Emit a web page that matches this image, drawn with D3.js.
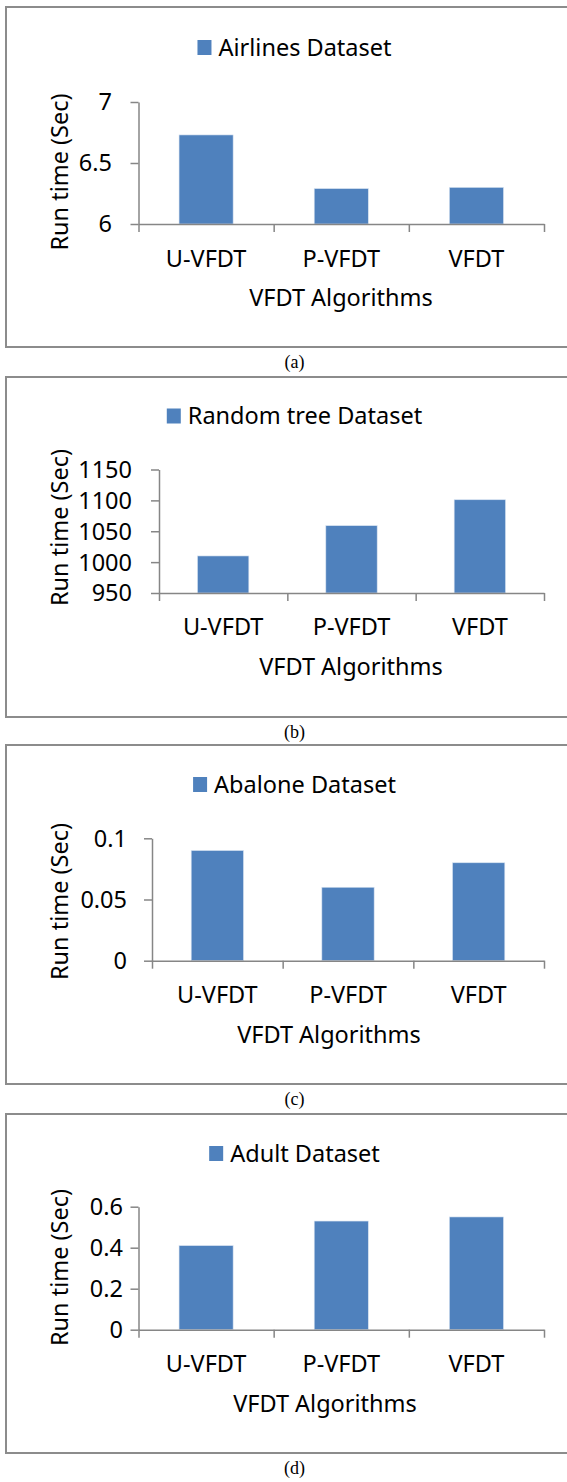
<!DOCTYPE html>
<html>
<head>
<meta charset="utf-8">
<script src="https://cdn.jsdelivr.net/npm/d3@7"></script>
<style>
  body { margin: 0; background: #fff; }
  svg { display: block; }
  .lbl { font-family: "Noto Sans", sans-serif; fill: #000; }
  .cap { font-family: "Liberation Serif", serif; fill: #000; }
</style>
</head>
<body>
<div id="chart"></div>
<script>
// data
var categories = ['U-VFDT', 'P-VFDT', 'VFDT'];

var airlinesValues   = [6.73, 6.29, 6.30];
var randomTreeValues = [1010, 1059, 1101];
var abaloneValues    = [0.09, 0.06, 0.08];
var adultValues      = [0.41, 0.53, 0.55];

var airlinesTicks   = [6, 6.5, 7];
var randomTreeTicks = [950, 1000, 1050, 1100, 1150];
var abaloneTicks    = [0, 0.05, 0.1];
var adultTicks      = [0, 0.2, 0.4, 0.6];

var seriesNames = ['Airlines Dataset', 'Random tree Dataset', 'Abalone Dataset', 'Adult Dataset'];
var captions    = ['(a)', '(b)', '(c)', '(d)'];
var xTitle = 'VFDT Algorithms';
var yTitle = 'Run time (Sec)';

// layout of each panel (pixel positions of frame / plot area)
var panels = [
  {values: airlinesValues,   ticks: airlinesTicks,   fmt: d3.format('~g'),
   top: 7,    bottom: 347,  x0: 138.5, x1: 544, yTop: 102,   yBot: 224,   labelX: 112,
   legY: 47.5,   catY: 267,  titleY: 306,  titleX: 341, yTitleY: 172},
  {values: randomTreeValues, ticks: randomTreeTicks, fmt: d3.format('d'),
   top: 377,  bottom: 717,  x0: 159,   x1: 544, yTop: 469.5, yBot: 593,   labelX: 132,
   legY: 416,    catY: 635,  titleY: 675,  titleX: 351, yTitleY: 527.5},
  {values: abaloneValues,    ticks: abaloneTicks,    fmt: d3.format('~g'),
   top: 745,  bottom: 1084, x0: 152,   x1: 544, yTop: 838.3, yBot: 960.7, labelX: 127,
   legY: 784.5,  catY: 1003, titleY: 1043, titleX: 329, yTitleY: 901.5},
  {values: adultValues,      ticks: adultTicks,      fmt: d3.format('~g'),
   top: 1114, bottom: 1453, x0: 138.5, x1: 544, yTop: 1206.7, yBot: 1329.7, labelX: 123,
   legY: 1153.5, catY: 1372, titleY: 1412, titleX: 325, yTitleY: 1267.5}
];

var W = 567, H = 1482;
var barColor = '#4F81BD';
var axisColor = '#868686';
var fontSize = 23.5;

var svg = d3.select('#chart').append('svg')
  .attr('width', W)
  .attr('height', H);

panels.forEach(function(p, i) {
  var g = svg.append('g');

  // outer frame (runs past the right edge of the page)
  g.append('rect')
    .attr('x', 6).attr('y', p.top)
    .attr('width', 600).attr('height', p.bottom - p.top)
    .attr('fill', 'none')
    .attr('stroke', '#8c8c8c')
    .attr('stroke-width', 2);

  var ext = d3.extent(p.ticks);
  var y = d3.scaleLinear().domain(ext).range([p.yBot, p.yTop]);
  var x = d3.scaleBand().domain(categories).range([p.x0, p.x1])
    .paddingInner(0.6).paddingOuter(0.3);
  var xEdge = d3.scaleLinear().domain([0, categories.length]).range([p.x0, p.x1]);

  // bars
  g.selectAll('rect.bar').data(p.values).enter()
    .append('rect')
    .attr('class', 'bar')
    .attr('x', function(d, j) { return x(categories[j]); })
    .attr('width', x.bandwidth())
    .attr('y', function(d) { return y(d); })
    .attr('height', function(d) { return y(ext[0]) - y(d); })
    .attr('fill', barColor)
    .attr('stroke', '#d6e2f0')
    .attr('stroke-width', 0.6);

  // y axis
  var yAxis = g.append('g')
    .attr('transform', 'translate(' + p.x0 + ',0)')
    .call(d3.axisLeft(y).tickValues(p.ticks).tickSize(8).tickSizeOuter(0).tickFormat(''));
  yAxis.selectAll('path, line').attr('stroke', axisColor).attr('stroke-width', 1.5);

  g.selectAll('text.ytick').data(p.ticks).enter()
    .append('text')
    .attr('class', 'lbl ytick')
    .attr('x', p.labelX)
    .attr('y', function(d) { return y(d); })
    .attr('dy', '0.36em')
    .attr('text-anchor', 'end')
    .style('font-size', fontSize + 'px')
    .text(function(d) { return p.fmt(d); });

  // x axis with tick marks between categories
  var xAxis = g.append('g')
    .attr('transform', 'translate(0,' + p.yBot + ')')
    .call(d3.axisBottom(xEdge).tickValues(d3.range(categories.length + 1))
      .tickSize(8).tickSizeOuter(0).tickFormat(''));
  xAxis.selectAll('path, line').attr('stroke', axisColor).attr('stroke-width', 1.5);

  g.selectAll('text.xcat').data(categories).enter()
    .append('text')
    .attr('class', 'lbl xcat')
    .attr('x', function(d) { return x(d) + x.bandwidth() / 2; })
    .attr('y', p.catY)
    .attr('text-anchor', 'middle')
    .style('font-size', fontSize + 'px')
    .text(function(d) { return d; });

  // axis titles
  g.append('text')
    .attr('class', 'lbl')
    .attr('x', p.titleX)
    .attr('y', p.titleY)
    .attr('text-anchor', 'middle')
    .style('font-size', fontSize + 'px')
    .text(xTitle);

  g.append('text')
    .attr('class', 'lbl')
    .attr('transform', 'translate(68,' + p.yTitleY + ') rotate(-90)')
    .attr('text-anchor', 'middle')
    .style('font-size', fontSize + 'px')
    .text(yTitle);

  // legend, centred on the chart area
  var leg = g.append('g');
  leg.append('rect')
    .attr('width', 14).attr('height', 15)
    .attr('y', -7.5)
    .attr('fill', barColor);
  var lt = leg.append('text')
    .attr('class', 'lbl')
    .attr('x', 21)
    .attr('dy', '0.36em')
    .style('font-size', fontSize + 'px')
    .text(seriesNames[i]);
  var lw = 21 + lt.node().getComputedTextLength();
  leg.attr('transform', 'translate(' + (294.5 - lw / 2) + ',' + p.legY + ')');

  // caption under the frame
  g.append('text')
    .attr('class', 'cap')
    .attr('x', 294.5)
    .attr('y', p.bottom + 21)
    .attr('text-anchor', 'middle')
    .style('font-size', '18px')
    .text(captions[i]);
});
</script>
</body>
</html>
